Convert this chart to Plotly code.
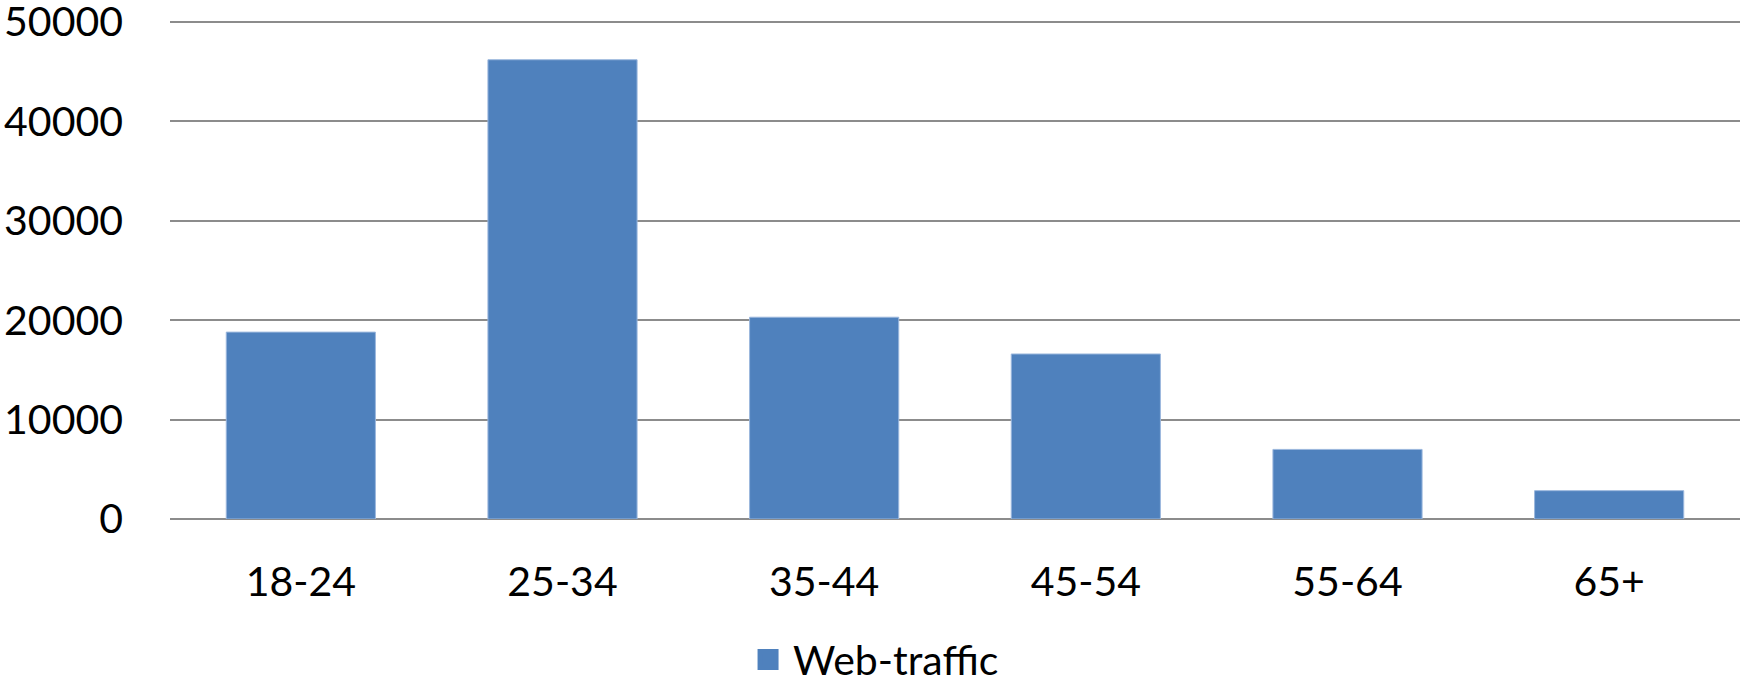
import plotly.graph_objects as go

categories = ["18-24", "25-34", "35-44", "45-54", "55-64", "65+"]
web_traffic = [18800, 46200, 20300, 16600, 7000, 2850]
y_ticks = [0, 10000, 20000, 30000, 40000, 50000]
series_name = "Web-traffic"
bar_color = "#4f81bd"

fig = go.Figure()
fig.add_trace(go.Bar(
    x=categories, y=web_traffic, name=series_name, showlegend=False,
    marker=dict(color=bar_color, line=dict(color="#9bb7dd", width=1)),
    width=0.57,
))
# legend-only entry with a larger square swatch
fig.add_trace(go.Scatter(
    x=[None], y=[None], mode="markers", name=series_name,
    marker=dict(symbol="square", size=16, color=bar_color,
                line=dict(color=bar_color, width=5)),
    hoverinfo="skip",
))

font_family = "Lato, Carlito, Calibri, sans-serif"
fig.update_layout(
    width=1740, height=683,
    margin=dict(l=170, r=0, t=16.5, b=163.5, autoexpand=False),
    paper_bgcolor="white", plot_bgcolor="white",
    font=dict(family=font_family, size=41, color="black"),
    showlegend=True,
    legend=dict(orientation="h", xref="paper", x=0.365, xanchor="left",
                yref="container", y=0.034, yanchor="middle",
                font=dict(size=41), itemwidth=40),
    xaxis=dict(showgrid=False, ticks="", ticklabelstandoff=35,
               tickfont=dict(size=41)),
    yaxis=dict(range=[0, 50500], tickvals=y_ticks, ticktext=[str(v) for v in y_ticks],
               showgrid=True, gridcolor="#8c8c8c", gridwidth=2,
               zeroline=True, zerolinecolor="#8c8c8c", zerolinewidth=2,
               ticks="", ticklabelstandoff=46, tickfont=dict(size=41),
               ticklabeloverflow="allow"),
    bargap=0.43,
)

fig.write_html("out.html")
